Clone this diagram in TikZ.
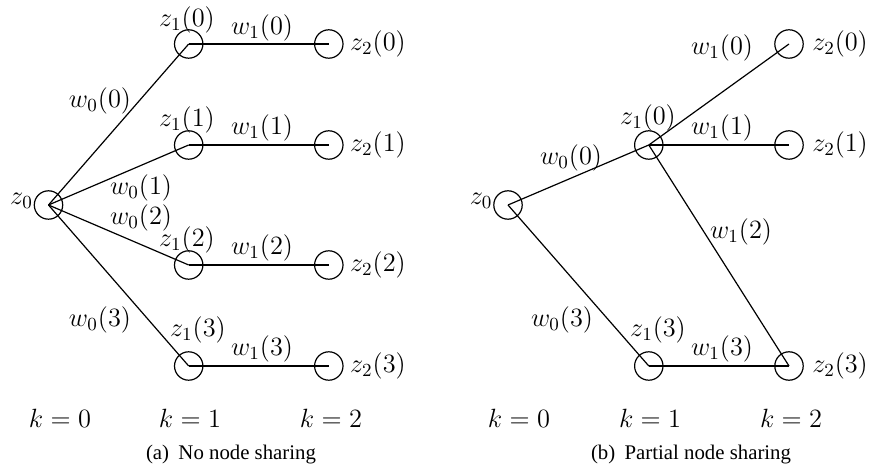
\RequirePackage{fix-cm}
\documentclass[tikz,border=0pt]{standalone}
\usepackage{fontspec}
\newfontfamily\capfont{Liberation Serif}
\begin{document}
\begin{tikzpicture}[x=0.5pt,y=-0.5pt,line width=0.6pt,
  st/.style={circle,draw,minimum size=14.2pt,inner sep=0pt},
  lb/.style={font=\fontsize{13.2}{16}\selectfont,inner sep=0pt},
  captxt/.style={font=\capfont\fontsize{10.4}{12}\selectfont,inner sep=0pt}]
\useasboundingbox (0,0) rectangle (870,469);
% ---------- (a) ----------
\node[st] (a0)  at (48.5,205) {};
\node[st] (a10) at (188.7,44) {};
\node[st] (a11) at (188.7,145) {};
\node[st] (a12) at (188.7,265) {};
\node[st] (a13) at (188.7,366) {};
\node[st] (a20) at (328.8,44) {};
\node[st] (a21) at (328.8,145) {};
\node[st] (a22) at (328.8,265) {};
\node[st] (a23) at (328.8,366) {};
\foreach \i in {0,1,2,3} {
  \draw (a0.center) -- (a1\i.center);
  \draw (a1\i.center) -- (a2\i.center);
}
\node[lb] (la0)  at (21.5,201) {$z_0$};
\node[lb] (la10) at (187,20) {$z_1(0)$};
\node[lb] (la11) at (187,120) {$z_1(1)$};
\node[lb] (la12) at (187,240) {$z_1(2)$};
\node[lb] (la13) at (198,330) {$z_1(3)$};
\node[lb] (la20) at (378,44) {$z_2(0)$};
\node[lb] (la21) at (378,145) {$z_2(1)$};
\node[lb] (la22) at (378,265) {$z_2(2)$};
\node[lb] (la23) at (378,366) {$z_2(3)$};
\node[lb] (wa00) at (100,101) {$w_0(0)$};
\node[lb] (wa01) at (141,188) {$w_0(1)$};
\node[lb] (wa02) at (141,218) {$w_0(2)$};
\node[lb] (wa03) at (100,320) {$w_0(3)$};
\node[lb] (wa10) at (262,28) {$w_1(0)$};
\node[lb] (wa11) at (262,128) {$w_1(1)$};
\node[lb] (wa12) at (262,248) {$w_1(2)$};
\node[lb] (wa13) at (262,349) {$w_1(3)$};
\node[lb] (ka0) at (60,418) {$k=0$};
\node[lb] (ka1) at (190,418) {$k=1$};
\node[lb] (ka2) at (331,418) {$k=2$};
\node[captxt] (capa) at (231,455) {(a)\hspace{0.45em}No node sharing};
% ---------- (b) ----------
\node[st] (b0)  at (508,205) {};
\node[st] (b10) at (648.8,145) {};
\node[st] (b13) at (648.8,366) {};
\node[st] (b20) at (789,44) {};
\node[st] (b21) at (789,145) {};
\node[st] (b23) at (789,366) {};
\draw (b0.center) -- (b10.center);
\draw (b0.center) -- (b13.center);
\draw (b10.center) -- (b20.center);
\draw (b10.center) -- (b21.center);
\draw (b10.center) -- (b23.center);
\draw (b13.center) -- (b23.center);
\node[lb] (lb0)  at (481,201) {$z_0$};
\node[lb] (lb10) at (648,118) {$z_1(0)$};
\node[lb] (lb13) at (658,330) {$z_1(3)$};
\node[lb] (lb20) at (840,44) {$z_2(0)$};
\node[lb] (lb21) at (840,145) {$z_2(1)$};
\node[lb] (lb23) at (840,366) {$z_2(3)$};
\node[lb] (wb00) at (571,158) {$w_0(0)$};
\node[lb] (wb03) at (562,320) {$w_0(3)$};
\node[lb] (wb10) at (722,48) {$w_1(0)$};
\node[lb] (wb11) at (722,128) {$w_1(1)$};
\node[lb] (wb12) at (741,232) {$w_1(2)$};
\node[lb] (wb13) at (722,349) {$w_1(3)$};
\node[lb] (kb0) at (519,418) {$k=0$};
\node[lb] (kb1) at (650,418) {$k=1$};
\node[lb] (kb2) at (791,418) {$k=2$};
\node[captxt] (capb) at (691,455) {(b)\hspace{0.45em}Partial node sharing};
\end{tikzpicture}
\end{document}
